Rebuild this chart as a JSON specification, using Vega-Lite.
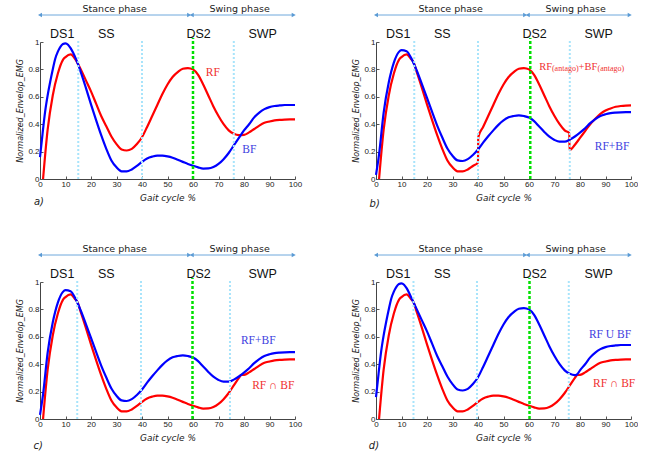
{
"$schema":"https://vega.github.io/schema/vega-lite/v6.json",
"padding":{"left":16,"top":4,"right":0,"bottom":0},
"background":"white",
"datasets":{
"rf":[{"x":1.2,"y":0},{"x":3,"y":0.36},{"x":5,"y":0.61},{"x":7,"y":0.77},{"x":9,"y":0.87},{"x":10,"y":0.89},{"x":12,"y":0.91},{"x":14,"y":0.87},{"x":16,"y":0.80},{"x":18,"y":0.72},{"x":20,"y":0.64},{"x":22,"y":0.55},{"x":24,"y":0.46},{"x":26,"y":0.385},{"x":28,"y":0.31},{"x":30,"y":0.255},{"x":32,"y":0.215},{"x":34,"y":0.208},{"x":36,"y":0.22},{"x":38,"y":0.255},{"x":40,"y":0.305},{"x":42,"y":0.38},{"x":44,"y":0.46},{"x":46,"y":0.54},{"x":48,"y":0.62},{"x":50,"y":0.69},{"x":52,"y":0.745},{"x":54,"y":0.78},{"x":56,"y":0.805},{"x":58,"y":0.81},{"x":60,"y":0.80},{"x":62,"y":0.76},{"x":64,"y":0.69},{"x":66,"y":0.61},{"x":68,"y":0.53},{"x":70,"y":0.46},{"x":72,"y":0.40},{"x":74,"y":0.355},{"x":76,"y":0.33},{"x":78,"y":0.32},{"x":80,"y":0.322},{"x":82,"y":0.34},{"x":84,"y":0.365},{"x":86,"y":0.39},{"x":88,"y":0.41},{"x":90,"y":0.42},{"x":92,"y":0.428},{"x":94,"y":0.432},{"x":96,"y":0.434},{"x":98,"y":0.435},{"x":100,"y":0.435}],
"bf":[{"x":0,"y":0.16},{"x":1,"y":0.33},{"x":2,"y":0.49},{"x":3,"y":0.61},{"x":4,"y":0.71},{"x":5,"y":0.80},{"x":6,"y":0.88},{"x":7,"y":0.93},{"x":8,"y":0.965},{"x":9,"y":0.985},{"x":10,"y":0.99},{"x":11,"y":0.98},{"x":12,"y":0.955},{"x":14,"y":0.88},{"x":16,"y":0.78},{"x":18,"y":0.665},{"x":20,"y":0.545},{"x":22,"y":0.43},{"x":24,"y":0.32},{"x":26,"y":0.22},{"x":28,"y":0.135},{"x":30,"y":0.085},{"x":32,"y":0.056},{"x":34,"y":0.055},{"x":36,"y":0.07},{"x":38,"y":0.095},{"x":40,"y":0.125},{"x":42,"y":0.15},{"x":44,"y":0.163},{"x":46,"y":0.17},{"x":48,"y":0.17},{"x":50,"y":0.165},{"x":52,"y":0.155},{"x":54,"y":0.14},{"x":56,"y":0.125},{"x":58,"y":0.11},{"x":60,"y":0.097},{"x":62,"y":0.085},{"x":64,"y":0.076},{"x":66,"y":0.077},{"x":68,"y":0.087},{"x":70,"y":0.11},{"x":72,"y":0.145},{"x":74,"y":0.19},{"x":76,"y":0.245},{"x":78,"y":0.30},{"x":80,"y":0.355},{"x":82,"y":0.40},{"x":84,"y":0.45},{"x":86,"y":0.485},{"x":88,"y":0.51},{"x":90,"y":0.525},{"x":92,"y":0.533},{"x":94,"y":0.537},{"x":96,"y":0.54},{"x":98,"y":0.54},{"x":100,"y":0.54}],
"sum":[{"x":0,"y":0.03},{"x":1.2,"y":0.18},{"x":3,"y":0.485},{"x":5,"y":0.705},{"x":7,"y":0.85},{"x":9,"y":0.928},{"x":10,"y":0.94},{"x":12,"y":0.933},{"x":14,"y":0.875},{"x":16,"y":0.79},{"x":18,"y":0.6925},{"x":20,"y":0.5925},{"x":22,"y":0.49},{"x":24,"y":0.39},{"x":26,"y":0.3025},{"x":28,"y":0.2225},{"x":30,"y":0.17},{"x":32,"y":0.1355},{"x":34,"y":0.1315},{"x":36,"y":0.145},{"x":38,"y":0.175},{"x":40,"y":0.215},{"x":42,"y":0.265},{"x":44,"y":0.3115},{"x":46,"y":0.355},{"x":48,"y":0.395},{"x":50,"y":0.4275},{"x":52,"y":0.45},{"x":54,"y":0.46},{"x":56,"y":0.465},{"x":58,"y":0.46},{"x":60,"y":0.4485},{"x":62,"y":0.4225},{"x":64,"y":0.383},{"x":66,"y":0.3435},{"x":68,"y":0.3085},{"x":70,"y":0.285},{"x":72,"y":0.2725},{"x":74,"y":0.2725},{"x":76,"y":0.2875},{"x":78,"y":0.31},{"x":80,"y":0.3385},{"x":82,"y":0.37},{"x":84,"y":0.4075},{"x":86,"y":0.4375},{"x":88,"y":0.46},{"x":90,"y":0.4725},{"x":92,"y":0.4805},{"x":94,"y":0.4845},{"x":96,"y":0.487},{"x":98,"y":0.4875},{"x":100,"y":0.4875}],
"inter":[{"x":1.2,"y":0},{"x":3,"y":0.36},{"x":5,"y":0.61},{"x":7,"y":0.77},{"x":9,"y":0.87},{"x":10,"y":0.89},{"x":12,"y":0.91},{"x":14,"y":0.87},{"x":14.5,"y":0.86},{"x":16,"y":0.78},{"x":18,"y":0.665},{"x":20,"y":0.545},{"x":22,"y":0.43},{"x":24,"y":0.32},{"x":26,"y":0.22},{"x":28,"y":0.135},{"x":30,"y":0.085},{"x":32,"y":0.056},{"x":34,"y":0.055},{"x":36,"y":0.07},{"x":38,"y":0.095},{"x":40,"y":0.125},{"x":42,"y":0.15},{"x":44,"y":0.163},{"x":46,"y":0.17},{"x":48,"y":0.17},{"x":50,"y":0.165},{"x":52,"y":0.155},{"x":54,"y":0.14},{"x":56,"y":0.125},{"x":58,"y":0.11},{"x":60,"y":0.097},{"x":62,"y":0.085},{"x":64,"y":0.076},{"x":66,"y":0.077},{"x":68,"y":0.087},{"x":70,"y":0.11},{"x":72,"y":0.145},{"x":74,"y":0.19},{"x":76,"y":0.245},{"x":78,"y":0.30},{"x":78.8,"y":0.32},{"x":80,"y":0.322},{"x":82,"y":0.34},{"x":84,"y":0.365},{"x":86,"y":0.39},{"x":88,"y":0.41},{"x":90,"y":0.42},{"x":92,"y":0.428},{"x":94,"y":0.432},{"x":96,"y":0.434},{"x":98,"y":0.435},{"x":100,"y":0.435}],
"union":[{"x":0,"y":0.16},{"x":1,"y":0.33},{"x":2,"y":0.49},{"x":3,"y":0.61},{"x":4,"y":0.71},{"x":5,"y":0.80},{"x":6,"y":0.88},{"x":7,"y":0.93},{"x":8,"y":0.965},{"x":9,"y":0.985},{"x":10,"y":0.99},{"x":11,"y":0.98},{"x":12,"y":0.955},{"x":14,"y":0.88},{"x":14.5,"y":0.86},{"x":16,"y":0.80},{"x":18,"y":0.72},{"x":20,"y":0.64},{"x":22,"y":0.55},{"x":24,"y":0.46},{"x":26,"y":0.385},{"x":28,"y":0.31},{"x":30,"y":0.255},{"x":32,"y":0.215},{"x":34,"y":0.208},{"x":36,"y":0.22},{"x":38,"y":0.255},{"x":40,"y":0.305},{"x":42,"y":0.38},{"x":44,"y":0.46},{"x":46,"y":0.54},{"x":48,"y":0.62},{"x":50,"y":0.69},{"x":52,"y":0.745},{"x":54,"y":0.78},{"x":56,"y":0.805},{"x":58,"y":0.81},{"x":60,"y":0.80},{"x":62,"y":0.76},{"x":64,"y":0.69},{"x":66,"y":0.61},{"x":68,"y":0.53},{"x":70,"y":0.46},{"x":72,"y":0.40},{"x":74,"y":0.355},{"x":76,"y":0.33},{"x":78,"y":0.32},{"x":78.8,"y":0.325},{"x":80,"y":0.355},{"x":82,"y":0.40},{"x":84,"y":0.45},{"x":86,"y":0.485},{"x":88,"y":0.51},{"x":90,"y":0.525},{"x":92,"y":0.533},{"x":94,"y":0.537},{"x":96,"y":0.54},{"x":98,"y":0.54},{"x":100,"y":0.54}],
"antago":[{"x":1.2,"y":0},{"x":3,"y":0.36},{"x":5,"y":0.61},{"x":7,"y":0.77},{"x":9,"y":0.87},{"x":10,"y":0.89},{"x":12,"y":0.91},{"x":14,"y":0.87},{"x":14.5,"y":0.86},{"x":16,"y":0.78},{"x":18,"y":0.665},{"x":20,"y":0.545},{"x":22,"y":0.43},{"x":24,"y":0.32},{"x":26,"y":0.22},{"x":28,"y":0.135},{"x":30,"y":0.085},{"x":32,"y":0.056},{"x":34,"y":0.055},{"x":36,"y":0.07},{"x":38,"y":0.095},{"x":40,"y":0.12},{"x":40.1,"y":0.305},{"x":42,"y":0.38},{"x":44,"y":0.46},{"x":46,"y":0.54},{"x":48,"y":0.62},{"x":50,"y":0.69},{"x":52,"y":0.745},{"x":54,"y":0.78},{"x":56,"y":0.805},{"x":58,"y":0.81},{"x":60,"y":0.80},{"x":62,"y":0.76},{"x":64,"y":0.69},{"x":66,"y":0.61},{"x":68,"y":0.53},{"x":70,"y":0.46},{"x":72,"y":0.40},{"x":74,"y":0.355},{"x":75.8,"y":0.335},{"x":75.9,"y":0.21},{"x":78,"y":0.25},{"x":80,"y":0.30},{"x":82,"y":0.35},{"x":84,"y":0.40},{"x":86,"y":0.44},{"x":88,"y":0.475},{"x":90,"y":0.50},{"x":92,"y":0.515},{"x":94,"y":0.527},{"x":96,"y":0.533},{"x":98,"y":0.536},{"x":100,"y":0.537}],
"phases":[{"start":0,"end":58.5,"mid":29.3,"label":"Stance phase"},{"start":59.5,"end":99.5,"mid":78.3,"label":"Swing phase"}],
"regions":[{"x":8.7,"label":"DS1"},{"x":26,"label":"SS"},{"x":62.2,"label":"DS2"},{"x":87.3,"label":"SWP"}]
},
"bounds":"flush",
"columns":2,
"spacing":{"row":103,"column":81},
"concat":[
{"width":255,"height":137,"layer":[
 {"data":{"name":"rf"},"mark":{"type":"line","color":"#ff0000","strokeWidth":2.2,"interpolate":"monotone"},
  "encoding":{"x":{"field":"x","type":"quantitative","scale":{"domain":[0,100]},"axis":{"values":[0,10,20,30,40,50,60,70,80,90,100],"tickCount":20,"labelOverlap":false,"title":"Gait cycle %"}},
   "y":{"field":"y","type":"quantitative","scale":{"domain":[0,1]},"axis":{"values":[0,0.2,0.4,0.6,0.8,1],"tickCount":20,"labelOverlap":false,"format":"~g","title":"Normalized_Envelop_EMG"}}}},
 {"data":{"name":"bf"},"mark":{"type":"line","color":"#0000ff","strokeWidth":2.2,"interpolate":"monotone"},"encoding":{"x":{"field":"x","type":"quantitative"},"y":{"field":"y","type":"quantitative"}}},
 {"data":{"values":[{"x":15},{"x":40},{"x":76}]},"mark":{"type":"rule","color":"#a8e4fb","strokeWidth":2,"strokeDash":[2,2]},"encoding":{"x":{"field":"x","type":"quantitative"},"y":{"datum":0},"y2":{"datum":1.02}}},
 {"data":{"values":[{"x":60}]},"mark":{"type":"rule","color":"#00e000","strokeWidth":2.5,"strokeDash":[3,2]},"encoding":{"x":{"field":"x","type":"quantitative"},"y":{"datum":0},"y2":{"datum":1.03}}},
 {"data":{"name":"phases"},"mark":{"type":"rule","color":"#6fa8dc","strokeWidth":1},"encoding":{"x":{"field":"start","type":"quantitative"},"x2":{"field":"end"},"y":{"datum":1.197}}},
 {"data":{"name":"phases"},"mark":{"type":"point","shape":"triangle-left","filled":true,"color":"#5b9bd5","size":22,"opacity":1},"encoding":{"x":{"field":"start","type":"quantitative"},"y":{"datum":1.197}}},
 {"data":{"name":"phases"},"mark":{"type":"point","shape":"triangle-right","filled":true,"color":"#5b9bd5","size":22,"opacity":1},"encoding":{"x":{"field":"end","type":"quantitative"},"y":{"datum":1.197}}},
 {"data":{"name":"phases"},"mark":{"type":"text","font":"DejaVu Sans","fontSize":9.5,"color":"#222","baseline":"middle"},"encoding":{"x":{"field":"mid","type":"quantitative"},"y":{"datum":1.239},"text":{"field":"label"}}},
 {"data":{"name":"regions"},"mark":{"type":"text","font":"Liberation Sans","fontSize":12.5,"color":"#111","baseline":"middle"},"encoding":{"x":{"field":"x","type":"quantitative"},"y":{"datum":1.058},"text":{"field":"label"}}},
 {"data":{"values":[{"x":65,"y":0.774,"t":"RF"}]},"mark":{"type":"text","font":"Liberation Serif","fontSize":11.5,"color":"#f03030","align":"left","baseline":"middle"},"encoding":{"x":{"field":"x","type":"quantitative"},"y":{"field":"y","type":"quantitative"},"text":{"field":"t"}}},
 {"data":{"values":[{"x":79.3,"y":0.21,"t":"BF"}]},"mark":{"type":"text","font":"Liberation Serif","fontSize":11.5,"color":"#4040e0","align":"left","baseline":"middle"},"encoding":{"x":{"field":"x","type":"quantitative"},"y":{"field":"y","type":"quantitative"},"text":{"field":"t"}}},
 {"data":{"values":[{"x":-0.4,"y":-0.168,"t":"a)"}]},"mark":{"type":"text","font":"DejaVu Sans","fontStyle":"italic","fontSize":10,"color":"#222","baseline":"middle"},"encoding":{"x":{"field":"x","type":"quantitative"},"y":{"field":"y","type":"quantitative"},"text":{"field":"t"}}}
]},
{"width":255,"height":137,"layer":[
 {"data":{"name":"antago"},"mark":{"type":"line","color":"#ff0000","strokeWidth":2.2,"interpolate":"monotone"},
  "encoding":{"x":{"field":"x","type":"quantitative","scale":{"domain":[0,100]},"axis":{"values":[0,10,20,30,40,50,60,70,80,90,100],"tickCount":20,"labelOverlap":false,"title":"Gait cycle %"}},
   "y":{"field":"y","type":"quantitative","scale":{"domain":[0,1]},"axis":{"values":[0,0.2,0.4,0.6,0.8,1],"tickCount":20,"labelOverlap":false,"format":"~g","title":"Normalized_Envelop_EMG"}}}},
 {"data":{"name":"sum"},"mark":{"type":"line","color":"#0000ff","strokeWidth":2.2,"interpolate":"monotone"},"encoding":{"x":{"field":"x","type":"quantitative"},"y":{"field":"y","type":"quantitative"}}},
 {"data":{"values":[{"x":15},{"x":40},{"x":76}]},"mark":{"type":"rule","color":"#a8e4fb","strokeWidth":2,"strokeDash":[2,2]},"encoding":{"x":{"field":"x","type":"quantitative"},"y":{"datum":0},"y2":{"datum":1.02}}},
 {"data":{"values":[{"x":60.5}]},"mark":{"type":"rule","color":"#00e000","strokeWidth":2.5,"strokeDash":[3,2]},"encoding":{"x":{"field":"x","type":"quantitative"},"y":{"datum":0},"y2":{"datum":1.03}}},
 {"data":{"name":"phases"},"mark":{"type":"rule","color":"#6fa8dc","strokeWidth":1},"encoding":{"x":{"field":"start","type":"quantitative"},"x2":{"field":"end"},"y":{"datum":1.197}}},
 {"data":{"name":"phases"},"mark":{"type":"point","shape":"triangle-left","filled":true,"color":"#5b9bd5","size":22,"opacity":1},"encoding":{"x":{"field":"start","type":"quantitative"},"y":{"datum":1.197}}},
 {"data":{"name":"phases"},"mark":{"type":"point","shape":"triangle-right","filled":true,"color":"#5b9bd5","size":22,"opacity":1},"encoding":{"x":{"field":"end","type":"quantitative"},"y":{"datum":1.197}}},
 {"data":{"name":"phases"},"mark":{"type":"text","font":"DejaVu Sans","fontSize":9.5,"color":"#222","baseline":"middle"},"encoding":{"x":{"field":"mid","type":"quantitative"},"y":{"datum":1.239},"text":{"field":"label"}}},
 {"data":{"name":"regions"},"mark":{"type":"text","font":"Liberation Sans","fontSize":12.5,"color":"#111","baseline":"middle"},"encoding":{"x":{"field":"x","type":"quantitative"},"y":{"datum":1.058},"text":{"field":"label"}}},
 {"data":{"values":[{"x":64,"y":0.796,"t":"RF"},{"x":79.4,"y":0.796,"t":"+BF"}]},"mark":{"type":"text","font":"Liberation Serif","fontSize":10.5,"color":"#f03030","align":"left","baseline":"alphabetic"},"encoding":{"x":{"field":"x","type":"quantitative"},"y":{"field":"y","type":"quantitative"},"text":{"field":"t"}}},
 {"data":{"values":[{"x":69,"y":0.79,"t":"(antago)"},{"x":86.9,"y":0.79,"t":"(antago)"}]},"mark":{"type":"text","font":"Liberation Serif","fontSize":8,"color":"#f03030","align":"left","baseline":"alphabetic"},"encoding":{"x":{"field":"x","type":"quantitative"},"y":{"field":"y","type":"quantitative"},"text":{"field":"t"}}},
 {"data":{"values":[{"x":85.8,"y":0.237,"t":"RF+BF"}]},"mark":{"type":"text","font":"Liberation Serif","fontSize":11.5,"color":"#4040e0","align":"left","baseline":"middle"},"encoding":{"x":{"field":"x","type":"quantitative"},"y":{"field":"y","type":"quantitative"},"text":{"field":"t"}}},
 {"data":{"values":[{"x":-0.5,"y":-0.179,"t":"b)"}]},"mark":{"type":"text","font":"DejaVu Sans","fontStyle":"italic","fontSize":10,"color":"#222","baseline":"middle"},"encoding":{"x":{"field":"x","type":"quantitative"},"y":{"field":"y","type":"quantitative"},"text":{"field":"t"}}}
]},
{"width":255,"height":137,"layer":[
 {"data":{"name":"inter"},"mark":{"type":"line","color":"#ff0000","strokeWidth":2.2,"interpolate":"monotone"},
  "encoding":{"x":{"field":"x","type":"quantitative","scale":{"domain":[0,100]},"axis":{"values":[0,10,20,30,40,50,60,70,80,90,100],"tickCount":20,"labelOverlap":false,"title":"Gait cycle %"}},
   "y":{"field":"y","type":"quantitative","scale":{"domain":[0,1]},"axis":{"values":[0,0.2,0.4,0.6,0.8,1],"tickCount":20,"labelOverlap":false,"format":"~g","title":"Normalized_Envelop_EMG"}}}},
 {"data":{"name":"sum"},"mark":{"type":"line","color":"#0000ff","strokeWidth":2.2,"interpolate":"monotone"},"encoding":{"x":{"field":"x","type":"quantitative"},"y":{"field":"y","type":"quantitative"}}},
 {"data":{"values":[{"x":14.6},{"x":39.6},{"x":74.5}]},"mark":{"type":"rule","color":"#a8e4fb","strokeWidth":2,"strokeDash":[2,2]},"encoding":{"x":{"field":"x","type":"quantitative"},"y":{"datum":0},"y2":{"datum":1.02}}},
 {"data":{"values":[{"x":59.8}]},"mark":{"type":"rule","color":"#00e000","strokeWidth":2.5,"strokeDash":[3,2]},"encoding":{"x":{"field":"x","type":"quantitative"},"y":{"datum":0},"y2":{"datum":1.03}}},
 {"data":{"name":"phases"},"mark":{"type":"rule","color":"#6fa8dc","strokeWidth":1},"encoding":{"x":{"field":"start","type":"quantitative"},"x2":{"field":"end"},"y":{"datum":1.197}}},
 {"data":{"name":"phases"},"mark":{"type":"point","shape":"triangle-left","filled":true,"color":"#5b9bd5","size":22,"opacity":1},"encoding":{"x":{"field":"start","type":"quantitative"},"y":{"datum":1.197}}},
 {"data":{"name":"phases"},"mark":{"type":"point","shape":"triangle-right","filled":true,"color":"#5b9bd5","size":22,"opacity":1},"encoding":{"x":{"field":"end","type":"quantitative"},"y":{"datum":1.197}}},
 {"data":{"name":"phases"},"mark":{"type":"text","font":"DejaVu Sans","fontSize":9.5,"color":"#222","baseline":"middle"},"encoding":{"x":{"field":"mid","type":"quantitative"},"y":{"datum":1.239},"text":{"field":"label"}}},
 {"data":{"name":"regions"},"mark":{"type":"text","font":"Liberation Sans","fontSize":12.5,"color":"#111","baseline":"middle"},"encoding":{"x":{"field":"x","type":"quantitative"},"y":{"datum":1.058},"text":{"field":"label"}}},
 {"data":{"values":[{"x":78.8,"y":0.57,"t":"RF+BF"}]},"mark":{"type":"text","font":"Liberation Serif","fontSize":11.5,"color":"#4040e0","align":"left","baseline":"middle"},"encoding":{"x":{"field":"x","type":"quantitative"},"y":{"field":"y","type":"quantitative"},"text":{"field":"t"}}},
 {"data":{"values":[{"x":83.2,"y":0.24,"t":"RF ∩ BF"}]},"mark":{"type":"text","font":"Liberation Serif","fontSize":11.5,"color":"#f03030","align":"left","baseline":"middle"},"encoding":{"x":{"field":"x","type":"quantitative"},"y":{"field":"y","type":"quantitative"},"text":{"field":"t"}}},
 {"data":{"values":[{"x":-0.7,"y":-0.197,"t":"c)"}]},"mark":{"type":"text","font":"DejaVu Sans","fontStyle":"italic","fontSize":10,"color":"#222","baseline":"middle"},"encoding":{"x":{"field":"x","type":"quantitative"},"y":{"field":"y","type":"quantitative"},"text":{"field":"t"}}}
]},
{"width":255,"height":137,"layer":[
 {"data":{"name":"inter"},"mark":{"type":"line","color":"#ff0000","strokeWidth":2.2,"interpolate":"monotone"},
  "encoding":{"x":{"field":"x","type":"quantitative","scale":{"domain":[0,100]},"axis":{"values":[0,10,20,30,40,50,60,70,80,90,100],"tickCount":20,"labelOverlap":false,"title":"Gait cycle %"}},
   "y":{"field":"y","type":"quantitative","scale":{"domain":[0,1]},"axis":{"values":[0,0.2,0.4,0.6,0.8,1],"tickCount":20,"labelOverlap":false,"format":"~g","title":"Normalized_Envelop_EMG"}}}},
 {"data":{"name":"union"},"mark":{"type":"line","color":"#0000ff","strokeWidth":2.2,"interpolate":"monotone"},"encoding":{"x":{"field":"x","type":"quantitative"},"y":{"field":"y","type":"quantitative"}}},
 {"data":{"values":[{"x":14.7},{"x":39.6},{"x":75.6}]},"mark":{"type":"rule","color":"#a8e4fb","strokeWidth":2,"strokeDash":[2,2]},"encoding":{"x":{"field":"x","type":"quantitative"},"y":{"datum":0},"y2":{"datum":1.02}}},
 {"data":{"values":[{"x":60.2}]},"mark":{"type":"rule","color":"#00e000","strokeWidth":2.5,"strokeDash":[3,2]},"encoding":{"x":{"field":"x","type":"quantitative"},"y":{"datum":0},"y2":{"datum":1.03}}},
 {"data":{"name":"phases"},"mark":{"type":"rule","color":"#6fa8dc","strokeWidth":1},"encoding":{"x":{"field":"start","type":"quantitative"},"x2":{"field":"end"},"y":{"datum":1.197}}},
 {"data":{"name":"phases"},"mark":{"type":"point","shape":"triangle-left","filled":true,"color":"#5b9bd5","size":22,"opacity":1},"encoding":{"x":{"field":"start","type":"quantitative"},"y":{"datum":1.197}}},
 {"data":{"name":"phases"},"mark":{"type":"point","shape":"triangle-right","filled":true,"color":"#5b9bd5","size":22,"opacity":1},"encoding":{"x":{"field":"end","type":"quantitative"},"y":{"datum":1.197}}},
 {"data":{"name":"phases"},"mark":{"type":"text","font":"DejaVu Sans","fontSize":9.5,"color":"#222","baseline":"middle"},"encoding":{"x":{"field":"mid","type":"quantitative"},"y":{"datum":1.239},"text":{"field":"label"}}},
 {"data":{"name":"regions"},"mark":{"type":"text","font":"Liberation Sans","fontSize":12.5,"color":"#111","baseline":"middle"},"encoding":{"x":{"field":"x","type":"quantitative"},"y":{"datum":1.058},"text":{"field":"label"}}},
 {"data":{"values":[{"x":83.5,"y":0.61,"t":"RF U BF"}]},"mark":{"type":"text","font":"Liberation Serif","fontSize":11.5,"color":"#4040e0","align":"left","baseline":"middle"},"encoding":{"x":{"field":"x","type":"quantitative"},"y":{"field":"y","type":"quantitative"},"text":{"field":"t"}}},
 {"data":{"values":[{"x":85.1,"y":0.255,"t":"RF ∩ BF"}]},"mark":{"type":"text","font":"Liberation Serif","fontSize":11.5,"color":"#f03030","align":"left","baseline":"middle"},"encoding":{"x":{"field":"x","type":"quantitative"},"y":{"field":"y","type":"quantitative"},"text":{"field":"t"}}},
 {"data":{"values":[{"x":-0.8,"y":-0.197,"t":"d)"}]},"mark":{"type":"text","font":"DejaVu Sans","fontStyle":"italic","fontSize":10,"color":"#222","baseline":"middle"},"encoding":{"x":{"field":"x","type":"quantitative"},"y":{"field":"y","type":"quantitative"},"text":{"field":"t"}}}
]}
],
"config":{
 "view":{"stroke":null},
 "axis":{"grid":false,"domainColor":"#444","tickColor":"#555","tickSize":-3,"labelPadding":4,"labelOverlap":false,"labelFont":"Liberation Sans","labelFontSize":8,"labelColor":"#222","labelFlush":false,"titleFont":"DejaVu Sans","titleFontStyle":"italic","titleFontWeight":"normal","titleFontSize":9,"titleColor":"#222"},
 "axisX":{"titlePadding":5},
 "axisY":{"titleFontSize":8,"titlePadding":3}
}
}
